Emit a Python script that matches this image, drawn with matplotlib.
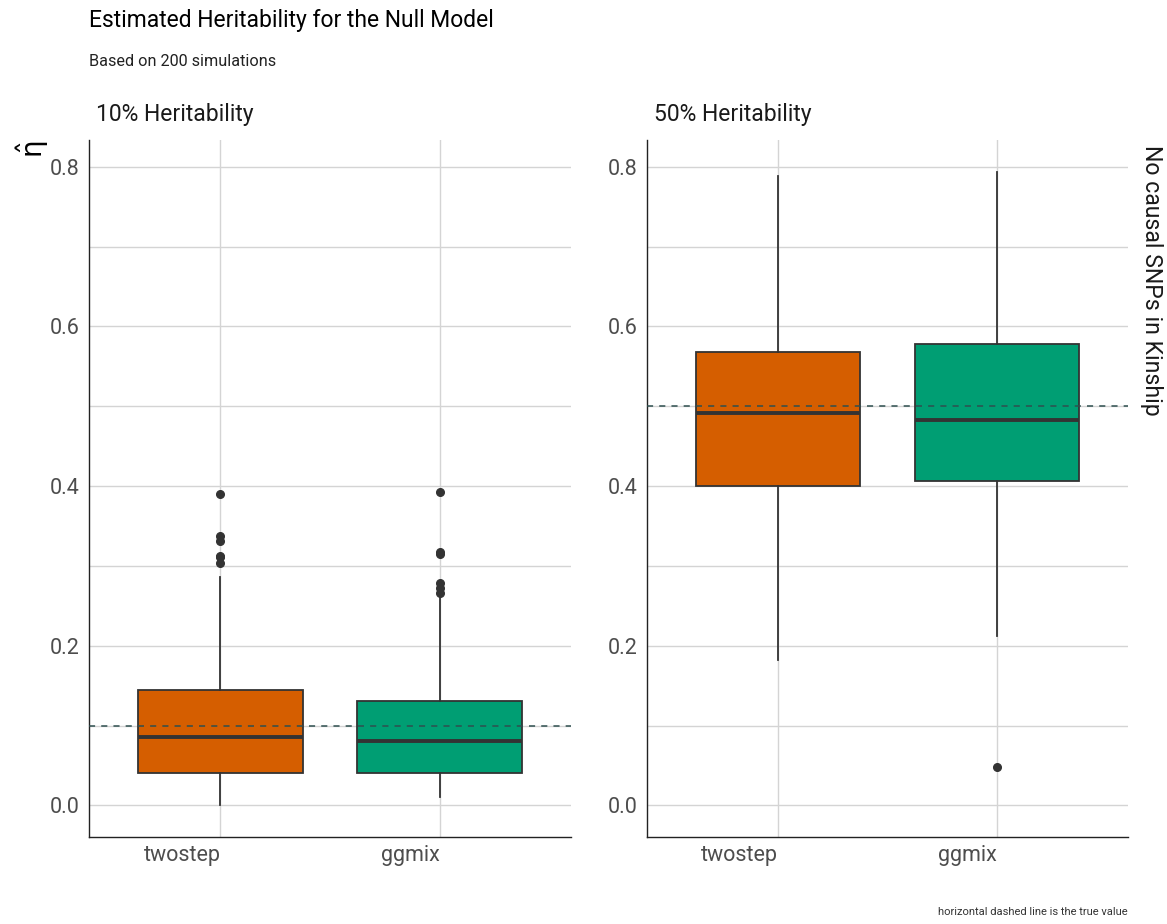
import matplotlib.pyplot as plt

plt.rcParams['font.family'] = ['Roboto', 'DejaVu Sans']

# --- data ---
CATEGORIES = ["twostep", "ggmix"]
COLORS = ["#D55E00", "#009E73"]
PANELS = ["10% Heritability", "50% Heritability"]
TRUE_VALUES = [0.1, 0.5]

# box stats per panel, per method: whislo, q1, med, q3, whishi
LOW_WHISLO = [0.0, 0.010]
LOW_Q1 = [0.041, 0.041]
LOW_MED = [0.086, 0.0805]
LOW_Q3 = [0.145, 0.131]
LOW_WHISHI = [0.286, 0.262]
LOW_FLIERS = [[0.3035, 0.311, 0.313, 0.331, 0.337, 0.390],
              [0.266, 0.272, 0.279, 0.315, 0.317, 0.393]]

HIGH_WHISLO = [0.1815, 0.2116]
HIGH_Q1 = [0.4006, 0.407]
HIGH_MED = [0.491, 0.483]
HIGH_Q3 = [0.5675, 0.578]
HIGH_WHISHI = [0.789, 0.794]
HIGH_FLIERS = [[], [0.048]]

Y_TICKS = [0.0, 0.2, 0.4, 0.6, 0.8]
Y_MINOR = [0.1, 0.3, 0.5, 0.7]


def make_stats(whislo, q1, med, q3, whishi, fliers):
    return [dict(whislo=a, q1=b, med=c, q3=d, whishi=e, fliers=f, label=lab)
            for a, b, c, d, e, f, lab in zip(whislo, q1, med, q3, whishi, fliers, CATEGORIES)]


stats = [make_stats(LOW_WHISLO, LOW_Q1, LOW_MED, LOW_Q3, LOW_WHISHI, LOW_FLIERS),
         make_stats(HIGH_WHISLO, HIGH_Q1, HIGH_MED, HIGH_Q3, HIGH_WHISHI, HIGH_FLIERS)]

W, H = 1167, 924
fig = plt.figure(figsize=(W / 100, H / 100), dpi=100)

axes_px = [(89, 571), (647, 1128)]
top_px, bot_px = 140, 837
ylim = (-0.0397, 0.8337)
grid_c = "#d4d4d4"
dark = "#333333"

for i, (x0, x1) in enumerate(axes_px):
    ax = fig.add_axes([x0 / W, 1 - bot_px / H, (x1 - x0) / W, (bot_px - top_px) / H])
    positions = list(range(1, len(CATEGORIES) + 1))
    bp = ax.bxp(stats[i], positions=positions, widths=0.75, patch_artist=True,
                showcaps=False,
                boxprops=dict(edgecolor=dark, linewidth=1.3),
                whiskerprops=dict(color=dark, linewidth=1.3),
                medianprops=dict(color=dark, linewidth=2.8),
                flierprops=dict(marker='o', markerfacecolor=dark, markeredgecolor=dark,
                                markersize=5.5, linestyle='none'),
                zorder=3)
    for patch, col in zip(bp['boxes'], COLORS):
        patch.set_facecolor(col)
    ax.axhline(TRUE_VALUES[i], color="#2F4F4F", linestyle=(0, (4, 4)), linewidth=1.1, zorder=4)

    ax.set_xlim(0.4, 2.6)
    ax.set_ylim(*ylim)
    ax.set_yticks(Y_TICKS)
    ax.set_yticks(Y_MINOR, minor=True)
    ax.set_yticklabels([f"{v:.1f}" for v in Y_TICKS])
    ax.set_xticks(positions)
    ax.set_xticklabels(CATEGORIES, ha='right')
    ax.grid(True, which='major', color=grid_c, linewidth=1.0, zorder=0)
    ax.grid(True, which='minor', axis='y', color=grid_c, linewidth=1.0, zorder=0)
    ax.set_axisbelow(True)
    ax.tick_params(which='both', length=0)
    ax.tick_params(axis='y', labelsize=15.5, labelcolor="#4d4d4d", pad=7)
    ax.tick_params(axis='x', labelsize=15.5, labelcolor="#4d4d4d", pad=6)
    for s in ['top', 'right']:
        ax.spines[s].set_visible(False)
    for s in ['left', 'bottom']:
        ax.spines[s].set_color("#222222")
        ax.spines[s].set_linewidth(1.0)

    fig.text((x0 + 7) / W, 1 - 115 / H, PANELS[i], fontsize=16.5, color="#1a1a1a",
             ha='left', va='center')

fig.text(89 / W, 1 - 20 / H, "Estimated Heritability for the Null Model",
         fontsize=16.5, color="black", ha='left', va='center')
fig.text(89 / W, 1 - 61 / H, "Based on 200 simulations",
         fontsize=11.7, color="#222222", ha='left', va='center')
fig.text(33 / W, 1 - 141 / H, r"$\hat{\mathrm{\eta}}$", fontsize=20, rotation=90,
         ha='center', va='top')
fig.text(1152 / W, 1 - 145 / H, "No causal SNPs in Kinship", fontsize=16.6,
         rotation=-90, ha='center', va='top', color="#1a1a1a")
fig.text(1128 / W, 1 - 912 / H, "horizontal dashed line is the true value",
         fontsize=8, color="#333333", ha='right', va='center')

fig.savefig("out.png", dpi=100)
